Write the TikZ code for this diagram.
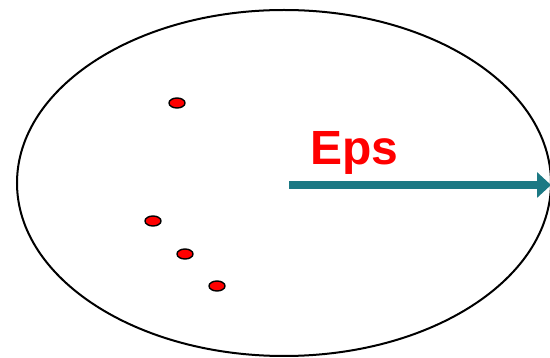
\documentclass[tikz,border=0pt]{standalone}
\usepackage{fontspec}
\setmainfont{Liberation Sans}
\usetikzlibrary{shapes.geometric,arrows.meta}
\definecolor{epsteal}{RGB}{28,121,132}

\begin{document}
\begin{tikzpicture}[x=1pt,y=-1pt,
  punkt/.style={ellipse,draw=black,fill=red,line width=1.4pt,minimum width=16pt,minimum height=10pt,inner sep=0pt}]
\useasboundingbox (0,0) rectangle (550,358);
\pgfmathsetmacro{\rx}{267}
\pgfmathsetmacro{\ry}{173}
% cluster boundary
\draw[line width=2pt] (284,183) ellipse [x radius=\rx, y radius=\ry];
% points
\node[punkt] (p1) at (177,103) {};
\node[punkt] (p2) at (153,221) {};
\node[punkt] (p3) at (185,254) {};
\node[punkt] (p4) at (217,286) {};
% radius
\coordinate (mitte) at (289,185);
\coordinate (rand) at (551,185);
\draw[epsteal,line width=8pt,-{Triangle[length=14pt,width=25pt]}] (mitte) -- (rand);
\node[text=red,font=\bfseries\fontsize{48}{48}\selectfont,anchor=base west,inner sep=0pt] (eps) at (310,165) {Eps};
\end{tikzpicture}
\end{document}
